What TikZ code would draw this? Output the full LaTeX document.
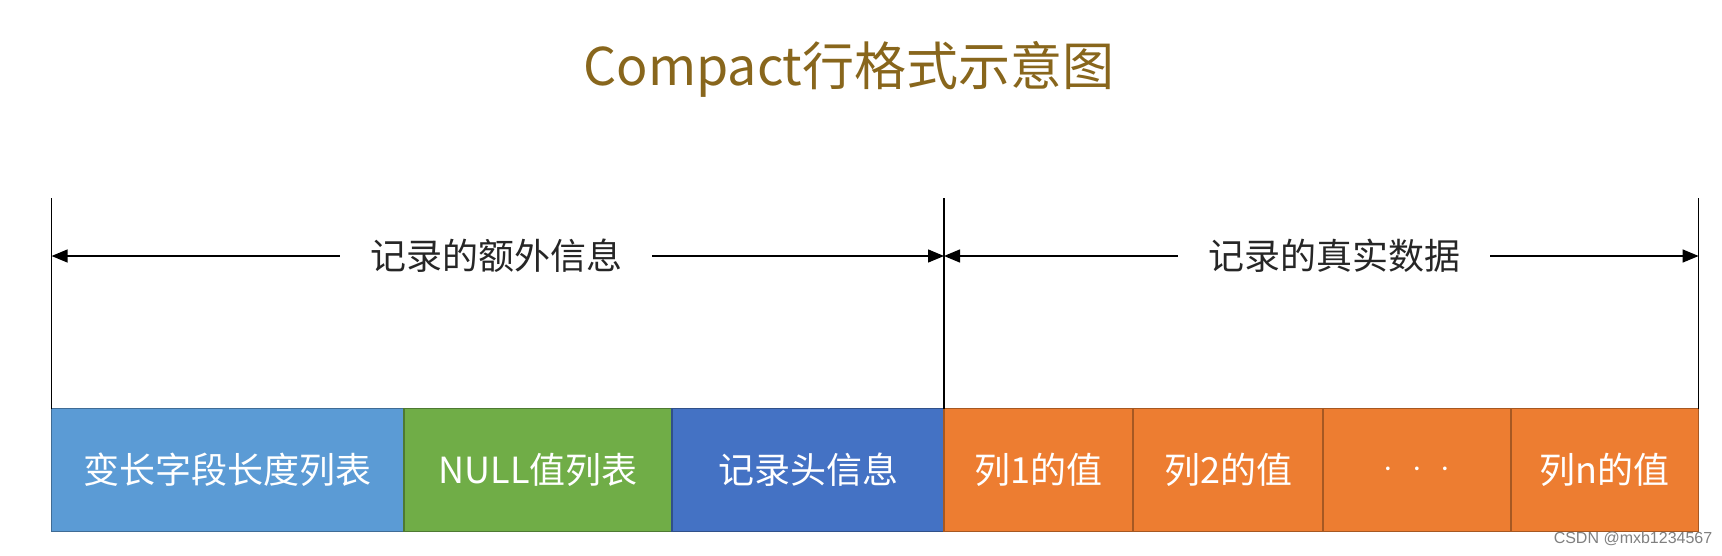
\documentclass[tikz,border=0pt]{standalone}
\usepackage{fontspec}
\setmainfont{Noto Sans CJK SC}
\newfontfamily\wmfont{Liberation Sans}
\usetikzlibrary{arrows.meta,positioning}
\definecolor{titlegold}{RGB}{136,102,28}
\definecolor{lenblue}{RGB}{91,155,213}
\definecolor{nullgreen}{RGB}{112,173,71}
\definecolor{headblue}{RGB}{68,114,196}
\definecolor{colorange}{RGB}{237,125,49}

\begin{document}
\begin{tikzpicture}[
    x=0.5pt, y=-0.5pt,
    fld/.style={draw, line width=0.8pt, minimum height=61.5pt, inner sep=0pt, outer sep=0pt, text=white, font=\fontsize{18}{20}\selectfont, anchor=north west},
    lbl/.style={inner xsep=15pt, inner ysep=0pt, font=\fontsize{18}{20}\selectfont, text=black!85},
    tick/.style={line width=0.7pt},
    dimarr/.style={-{Triangle[length=8pt,width=6.5pt]}, line width=0.7pt}
]
\useasboundingbox (0,0) rectangle (1722,556);

\node[font=\fontsize{26}{30}\selectfont, text=titlegold] (title) at (849,69) {Compact行格式示意图};

\node[fld, fill=lenblue, draw=lenblue!70!black, minimum width=176.2pt] (n1) at (51.6,408.5) {变长字段长度列表};
\node[fld, fill=nullgreen, draw=nullgreen!70!black, minimum width=134pt, right=0pt of n1] (n2) {NULL值列表};
\node[fld, fill=headblue, draw=headblue!70!black, minimum width=136pt, right=0pt of n2] (n3) {记录头信息};
\node[fld, fill=colorange, draw=colorange!70!black, minimum width=94.5pt, right=0pt of n3] (n4) {列1的值};
\node[fld, fill=colorange, draw=colorange!70!black, minimum width=95pt, right=0pt of n4] (n5) {列2的值};
\node[fld, fill=colorange, draw=colorange!70!black, minimum width=94pt, right=0pt of n5] (n6) {$\cdot\mkern6mu\cdot\mkern6mu\cdot$};
\node[fld, fill=colorange, draw=colorange!70!black, minimum width=93.8pt, right=0pt of n6] (n7) {列n的值};

% ticks
\coordinate (topL) at (51.6,197.6);
\coordinate (topM) at (n3.north east |- topL);
\coordinate (topR) at (n7.north east |- topL);
\draw[tick] (n1.north west) -- (topL);
\draw[tick] (n3.north east) -- (topM);
\draw[tick] (n7.north east) -- (topR);

% spans
\node[lbl] (extra) at (496,256) {记录的额外信息};
\node[lbl] (real) at (1334,256) {记录的真实数据};
\draw[dimarr] (extra.west) -- (topL |- extra);
\draw[dimarr] (extra.east) -- (topM |- extra);
\draw[dimarr] (real.west) -- (topM |- real);
\draw[dimarr] (real.east) -- (topR |- real);

\node[font=\wmfont\fontsize{8}{9}\selectfont, text=gray] (wm) at (1633,539) {CSDN @mxb1234567};
\end{tikzpicture}
\end{document}
